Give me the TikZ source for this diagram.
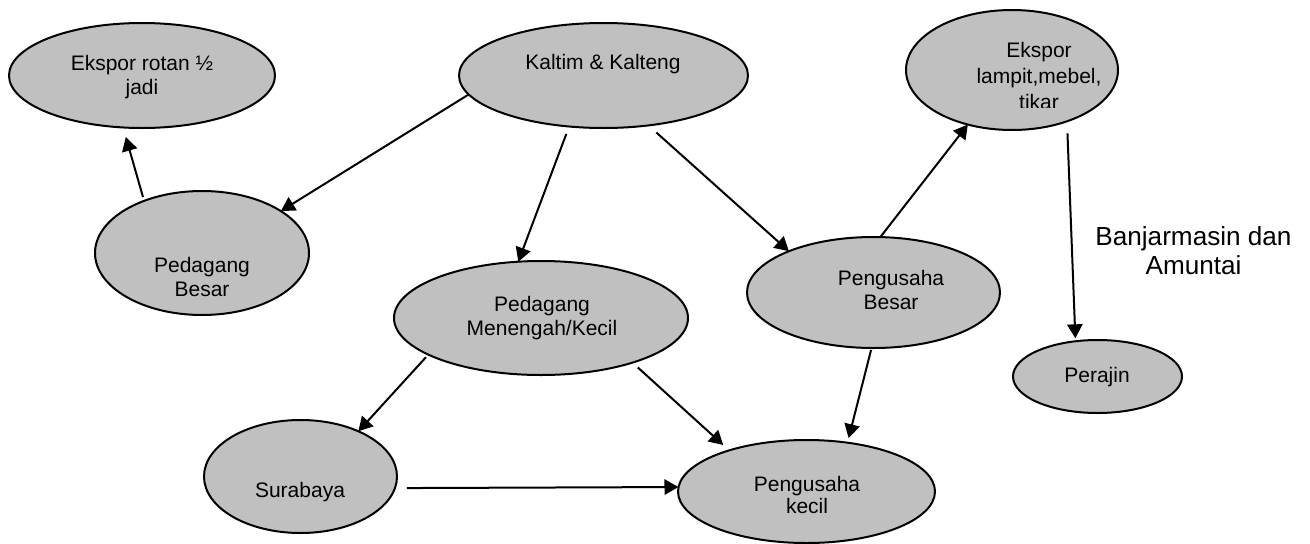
\documentclass[tikz,border=0pt]{standalone}
\usepackage{fontspec}
\setmainfont{Liberation Sans}
\usetikzlibrary{shapes.geometric,arrows.meta}
\definecolor{shade}{RGB}{192,192,192}
\tikzset{
  ell/.style={ellipse, draw, line width=1.5pt, fill=shade, inner sep=0pt, outer sep=0pt},
  lbl/.style={align=center, inner sep=0pt, font=\fontsize{15.75}{18}\selectfont},
  arr/.style={line width=1.5pt, -{Triangle[length=10.5pt,width=11.5pt]}}
}
\begin{document}
\begin{tikzpicture}[x=0.75pt, y=-0.75pt]
\useasboundingbox (0,0) rectangle (1310,543);

% ellipses
\node[ell, minimum width=199.5pt, minimum height=78.75pt] (er)   at (142,75.5)   {};
\node[ell, minimum width=216.75pt, minimum height=78.75pt] (kk)  at (603.5,75.5) {};
\node[ell, minimum width=159pt, minimum height=90pt]     (el)    at (1012,70)    {};
\node[ell, minimum width=160.5pt, minimum height=93pt]   (pb)    at (202,253)    {};
\node[ell, minimum width=220.5pt, minimum height=85.5pt] (pm)    at (541,318)    {};
\node[ell, minimum width=189.75pt, minimum height=83.25pt] (pbes) at (873.5,292.5) {};
\node[ell, minimum width=126.75pt, minimum height=54.75pt] (per) at (1097.5,376.5) {};
\node[ell, minimum width=144.75pt, minimum height=84.75pt] (sur) at (300.5,476.5) {};
\node[ell, minimum width=192.75pt, minimum height=77.25pt] (pk)  at (806.5,491.5) {};

% labels
\node[lbl] (ert)   at (142,77)   {Ekspor rotan ½\\jadi};
\node[lbl] (kkt)   at (603,64)   {Kaltim \& Kalteng};
\begin{scope}
  \clip (900,0) rectangle (1130,107);
  \node[lbl, font=\fontsize{15.75}{19.5}\selectfont] (elt) at (1039,76) {Ekspor\\lampit,mebel,\\tikar};
\end{scope}
\node[lbl] (pbt)   at (202,276.5) {Pedagang\\Besar};
\node[lbl] (pmt)   at (542,318)   {Pedagang\\Menengah/Kecil};
\node[lbl] (pbest) at (891,290)   {Pengusaha\\Besar};
\node[lbl] (pert)  at (1097,377)  {Perajin};
\node[lbl] (surt)  at (300,492)   {Surabaya};
\node[lbl, font=\fontsize{15.75}{16.5}\selectfont] (pkt) at (807,495) {Pengusaha\\kecil};
\node[lbl, font=\fontsize{19.6}{21.75}\selectfont] (bj) at (1193.5,251) {Banjarmasin dan\\Amuntai};

% connectors
\draw[arr] (kk.188) -- (pb.28);
\draw[arr, shorten <=3pt, shorten >=7.4pt] (pb.138) -- (er.250);
\draw[arr, shorten <=6pt] (kk.236.7) -- (pm.112.2);
\draw[arr, shorten <=8pt] (kk.312.8) -- (pbes.154.4);
\draw[arr] (pbes.83.3) -- (el.231.2);
\draw[arr, shorten <=9pt, shorten >=2.2pt] (el.317.7) -- (per.122.6);
\draw[arr, shorten <=2.6pt] (pm.198.7) -- (sur.38.3);
\draw[arr, shorten <=5.4pt, shorten >=6pt] (pm.334.9) -- (pk.152.6);
\draw[arr, shorten <=1.5pt, shorten >=3.5pt] (pbes.268.7) -- (pk.50.5);
\draw[arr, shorten <=9pt] (sur.353.1) -- (pk.178.4);
\end{tikzpicture}
\end{document}
